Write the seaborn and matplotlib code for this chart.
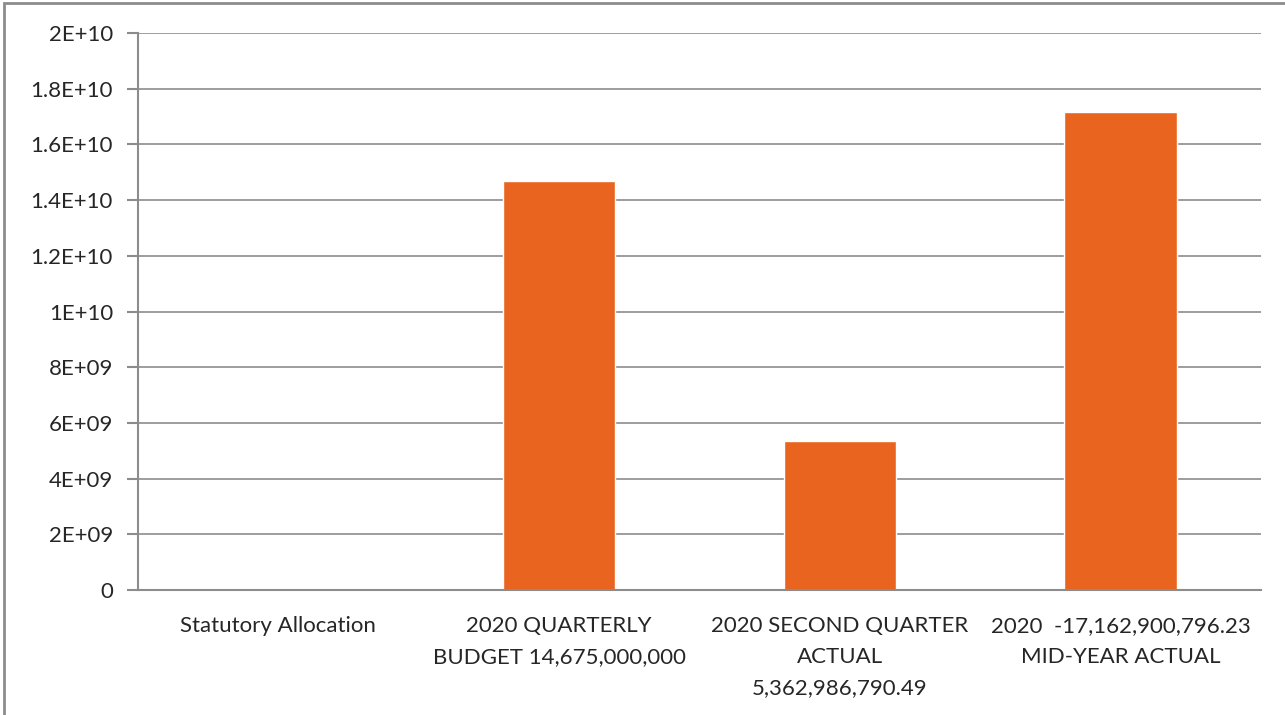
import matplotlib
matplotlib.use("Agg")
import matplotlib.pyplot as plt
import matplotlib.ticker as mticker
from matplotlib.patches import Rectangle
import pandas as pd
import seaborn as sns

# === Data ===
categories = [
    "Statutory Allocation",
    "2020 QUARTERLY\nBUDGET 14,675,000,000",
    "2020 SECOND QUARTER\nACTUAL\n5,362,986,790.49",
    "2020  -17,162,900,796.23\nMID-YEAR ACTUAL",
]
values = [0, 14675000000, 5362986790.49, 17162900796.23]
y_ticks = [0, 2e9, 4e9, 6e9, 8e9, 1e10, 1.2e10, 1.4e10, 1.6e10, 1.8e10, 2e10]

df = pd.DataFrame({"category": categories, "value": values})

sns.set_style("white")
plt.rcParams["font.family"] = ["Lato", "DejaVu Sans"]

grid_col = "#8c8c8c"
bar_col = "#e9651f"

fig = plt.figure(figsize=(12.85, 7.15), dpi=100)
ax = fig.add_axes([138 / 1285, 1 - 590 / 715, (1261 - 138) / 1285, (590 - 33) / 715])

sns.barplot(data=df, x="category", y="value", color=bar_col, width=0.4,
            saturation=1, ax=ax)

ax.set_xlim(-0.5, len(categories) - 0.5)
ax.set_ylim(0, 2e10)
ax.set_yticks(y_ticks)
ax.yaxis.set_major_formatter(mticker.FuncFormatter(lambda v, p: "0" if v == 0 else "{:G}".format(v)))
ax.set_xlabel("")
ax.set_ylabel("")

# gridlines and axes in Excel style
ax.yaxis.grid(True, color=grid_col, linewidth=1.2)
ax.set_axisbelow(True)
for side in ["top", "right"]:
    ax.spines[side].set_visible(False)
for side in ["left", "bottom"]:
    ax.spines[side].set_color(grid_col)
    ax.spines[side].set_linewidth(1.5)

# tick marks at category boundaries, labels centered
ax.set_xticks([i - 0.5 for i in range(len(categories) + 1)], minor=True)
ax.tick_params(axis="x", which="minor", length=8, color=grid_col, width=1.5, direction="out")
ax.tick_params(axis="x", which="major", length=0, pad=19, labelsize=16)
ax.tick_params(axis="y", which="major", length=8, color=grid_col, width=1.5,
               direction="out", pad=10, labelsize=16, left=True)
for lbl in ax.get_xticklabels():
    lbl.set_linespacing(1.68)
    lbl.set_verticalalignment("top")

# outer chart frame (cropped in the reference)
fig.patches.append(Rectangle((4 / 1285, -0.05), 1.1, 1 - 3 / 715 + 0.05,
                             transform=fig.transFigure, fill=False,
                             edgecolor=grid_col, linewidth=2))

fig.savefig("out.png", dpi=100)
